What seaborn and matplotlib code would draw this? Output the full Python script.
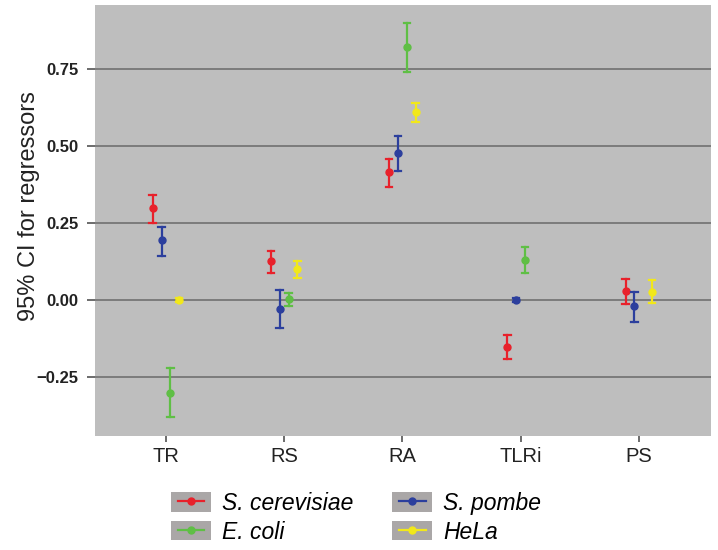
import numpy as np
import pandas as pd
import seaborn as sns
import matplotlib.pyplot as plt
from matplotlib.lines import Line2D
from matplotlib.patches import Patch
from matplotlib.legend_handler import HandlerLine2D

plt.rcParams["font.family"] = ["Liberation Sans", "DejaVu Sans"]

# Regressors on the x axis and organisms drawn as hue levels
regressors = ["TR", "RS", "RA", "TLRi", "PS"]
organisms = ["S. cerevisiae", "S. pombe", "E. coli", "HeLa"]
colors = ["#e8212b", "#2c3f9d", "#5fbf45", "#f2e81a"]

# Point estimates and 95% CI bounds (nan = regressor not fitted)
sc_est = [0.298, 0.127, 0.415, -0.152, 0.029]
sc_lo = [0.251, 0.089, 0.368, -0.190, -0.014]
sc_hi = [0.341, 0.160, 0.459, -0.114, 0.067]

sp_est = [0.195, -0.030, 0.476, 0.000, -0.019]
sp_lo = [0.144, -0.092, 0.420, -0.008, -0.071]
sp_hi = [0.238, 0.031, 0.533, 0.008, 0.026]

ec_est = [-0.301, 0.002, 0.821, 0.130, np.nan]
ec_lo = [-0.381, -0.019, 0.741, 0.087, np.nan]
ec_hi = [-0.222, 0.022, 0.898, 0.171, np.nan]

hl_est = [0.000, 0.102, 0.611, np.nan, 0.027]
hl_lo = [-0.008, 0.072, 0.579, np.nan, -0.011]
hl_hi = [0.008, 0.128, 0.641, np.nan, 0.065]

yticks = [-0.25, 0.0, 0.25, 0.50, 0.75]
ytick_labels = ["\u22120.25", "0.00", "0.25", "0.50", "0.75"]

# Long table: each interval stored as (low, estimate, high); the median
# gives the estimate and the full percentile interval gives the CI.
series = {
    "S. cerevisiae": (sc_lo, sc_est, sc_hi),
    "S. pombe": (sp_lo, sp_est, sp_hi),
    "E. coli": (ec_lo, ec_est, ec_hi),
    "HeLa": (hl_lo, hl_est, hl_hi),
}
rows = []
for org, (lo, est, hi) in series.items():
    for i, reg in enumerate(regressors):
        if np.isnan(est[i]):
            continue
        for v in (lo[i], est[i], hi[i]):
            rows.append({"regressor": reg, "organism": org, "value": v})
df = pd.DataFrame(rows)

fig = plt.figure(figsize=(7.18, 5.5), dpi=100)
ax = fig.add_axes([95 / 718, 114 / 550, 616 / 718, 431 / 550])
ax.set_facecolor("#bebebe")

sns.pointplot(
    data=df, x="regressor", y="value", hue="organism",
    order=regressors, hue_order=organisms, palette=colors,
    estimator="median", errorbar=("pi", 100),
    dodge=0.225, linestyle="none", markers="o", capsize=0.055,
    err_kws={"linewidth": 1.6}, markersize=5, markeredgewidth=1,
    linewidth=1.6, legend=False, ax=ax,
)

ax.set_xlim(-0.6, 4.61)
ax.set_ylim(-0.4416, 0.958)
ax.set_yticks(yticks)
ax.set_yticklabels(ytick_labels, fontweight="bold", fontsize=12, color="#222222")
ax.set_xticks(range(len(regressors)))
ax.set_xticklabels(regressors, fontsize=14.5, color="#222222")
ax.set_xlabel("")
ax.set_ylabel("95% CI for regressors", fontsize=17, color="#222222", va="center")
ax.yaxis.set_label_coords(-0.107, 0.534)
ax.grid(axis="y", color="#6a6a6a", linewidth=1.1)
ax.grid(axis="x", visible=False)
ax.set_axisbelow(True)
for s in ax.spines.values():
    s.set_visible(False)
ax.tick_params(axis="y", length=6, width=1.1, color="#444444", pad=6)
ax.tick_params(axis="x", length=4, width=1.1, color="#444444", pad=4)


class ShortLine(HandlerLine2D):
    """Legend line that leaves a margin inside the key box."""

    def get_xdata(self, legend, xdescent, ydescent, width, height, fontsize):
        pad = 0.17 * width
        return ([-xdescent + pad, -xdescent + width - pad],
                [-xdescent + 0.5 * width])


handles = {
    org: (Patch(facecolor="#aaa7a7", edgecolor="none"),
          Line2D([], [], color=c, marker="o", linewidth=1.6, markersize=5))
    for org, c in zip(organisms, colors)
}
# legend fills column-wise: list entries so rows read cerevisiae/pombe, coli/HeLa
legend_order = ["S. cerevisiae", "E. coli", "S. pombe", "HeLa"]
fig.legend(
    [handles[o] for o in legend_order], legend_order, ncol=2,
    loc="upper center", bbox_to_anchor=(0.496, 0.1265), frameon=False,
    prop={"style": "italic", "size": 16.5},
    handlelength=1.75, handleheight=0.92, handletextpad=0.48,
    columnspacing=1.7, labelspacing=0.25, borderpad=0.0,
    handler_map={Line2D: ShortLine()},
)

fig.savefig("out.png", dpi=100, facecolor="white")
